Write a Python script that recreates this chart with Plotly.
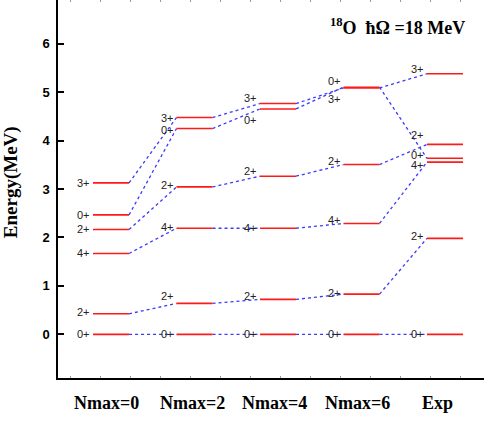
import plotly.graph_objects as go

# ---------------- data ----------------
columns = ["Nmax=0", "Nmax=2", "Nmax=4", "Nmax=6", "Exp"]
spins = ["0+", "2+", "4+", "2+", "0+", "3+"]          # same state order in every column
e_nmax0 = [0.00, 0.425, 1.67, 2.165, 2.466, 3.126]
e_nmax2 = [0.00, 0.639, 2.19, 3.043, 4.247, 4.474]
e_nmax4 = [0.00, 0.722, 2.19, 3.264, 4.652, 4.763]
e_nmax6 = [0.00, 0.831, 2.289, 3.505, 5.100, 5.085]
e_exp = [0.00, 1.982, 3.555, 3.920, 3.634, 5.378]
energies = [e_nmax0, e_nmax2, e_nmax4, e_nmax6, e_exp]
y_ticks = [0, 1, 2, 3, 4, 5, 6]

# ---------------- style / layout helpers ----------------
half_w = 0.216                    # half length of a level bar (column units)
label_dy = [                      # vertical nudges of spin labels (px)
    [0, 2, 0, 0, 0, 0],
    [0, 7, 1, 2, -1, 0],
    [0, 3, 0, 5, -11, 6],
    [0, 1, 3, 4, 6, -11],
    [0, 2, -3, 9, 3, 5],
]
cat_dx = [-0.05, -0.03, -0.04, -0.05, -0.085]   # category label x nudges

fig = go.Figure()

# dotted connectors
for c in range(len(columns) - 1):
    xs, ys = [], []
    for k in range(len(spins)):
        xs += [c + half_w, c + 1 - half_w, None]
        ys += [energies[c][k], energies[c + 1][k], None]
    fig.add_trace(go.Scatter(x=xs, y=ys, mode="lines",
                             line=dict(color="#3a3aff", width=1.3, dash="dot"),
                             hoverinfo="skip", showlegend=False))

# level bars
for c, col in enumerate(columns):
    xs, ys = [], []
    for e in energies[c]:
        xs += [c - half_w, c + half_w, None]
        ys += [e, e, None]
    fig.add_trace(go.Scatter(x=xs, y=ys, mode="lines",
                             line=dict(color="#ff1a1a", width=1.6),
                             name=col, showlegend=False))

annotations = []
# spin labels
for c in range(len(columns)):
    for k, s in enumerate(spins):
        annotations.append(dict(
            x=c - half_w, y=energies[c][k], xref="x", yref="y",
            text=s, showarrow=False, xanchor="right", yanchor="middle",
            xshift=-0.5, yshift=label_dy[c][k],
            font=dict(family="Liberation Sans, Arial", size=11, color="#222222")))

# category labels
for c, col in enumerate(columns):
    annotations.append(dict(
        x=c + cat_dx[c], y=-0.065, xref="x", yref="paper",
        text=col, showarrow=False, xanchor="center", yanchor="middle",
        font=dict(family="Liberation Serif, Times New Roman", size=18,
                  color="black", weight="bold")))

# title
annotations.append(dict(
    x=0.796, y=0.929, xref="paper", yref="paper",
    text="<sup>18</sup>O\u00a0 \u0127\u03a9 =18 MeV", showarrow=False,
    xanchor="center", yanchor="middle",
    font=dict(family="Liberation Serif, Times New Roman", size=18,
              color="black", weight="bold")))

# y-axis title
annotations.append(dict(
    x=0, y=0.518, xref="paper", yref="paper", xshift=-47,
    text="Energy(MeV)", showarrow=False, textangle=-90,
    xanchor="center", yanchor="middle",
    font=dict(family="Liberation Serif, Times New Roman", size=19,
              color="black", weight="bold")))

fig.update_layout(
    template="none",
    width=484, height=421,
    margin=dict(l=58, r=0, t=0, b=43, pad=0),
    paper_bgcolor="white", plot_bgcolor="white",
    annotations=annotations,
    xaxis=dict(range=[-0.635, 4.467], showgrid=False, zeroline=False,
               automargin=False,
               showline=True, linecolor="black", linewidth=1.5, mirror="ticks",
               ticks="inside", tick0=-0.491, dtick=0.3593, ticklen=2,
               tickcolor="#999999", tickwidth=1, showticklabels=False),
    yaxis=dict(range=[-0.9, 6.9], showgrid=False, zeroline=False,
               automargin=False,
               showline=True, linecolor="black", linewidth=1.5,
               ticks="inside", tickvals=y_ticks, ticklen=6, tickwidth=1.5,
               tickcolor="black", ticklabelstandoff=4,
               tickfont=dict(family="Liberation Sans, Arial", size=13,
                             color="black", weight="bold")),
    yaxis2=dict(range=[-0.9, 6.9], overlaying="y", side="right",
                automargin=False,
                showgrid=False, zeroline=False, showline=False,
                ticks="inside", tickvals=y_ticks, ticklen=4, tickwidth=1.5,
                tickcolor="black", showticklabels=False),
)

fig.write_html("out.html",
               config={"displayModeBar": False},
               post_script="document.body.style.margin='0';"
                           "document.body.style.overflow='hidden';")
